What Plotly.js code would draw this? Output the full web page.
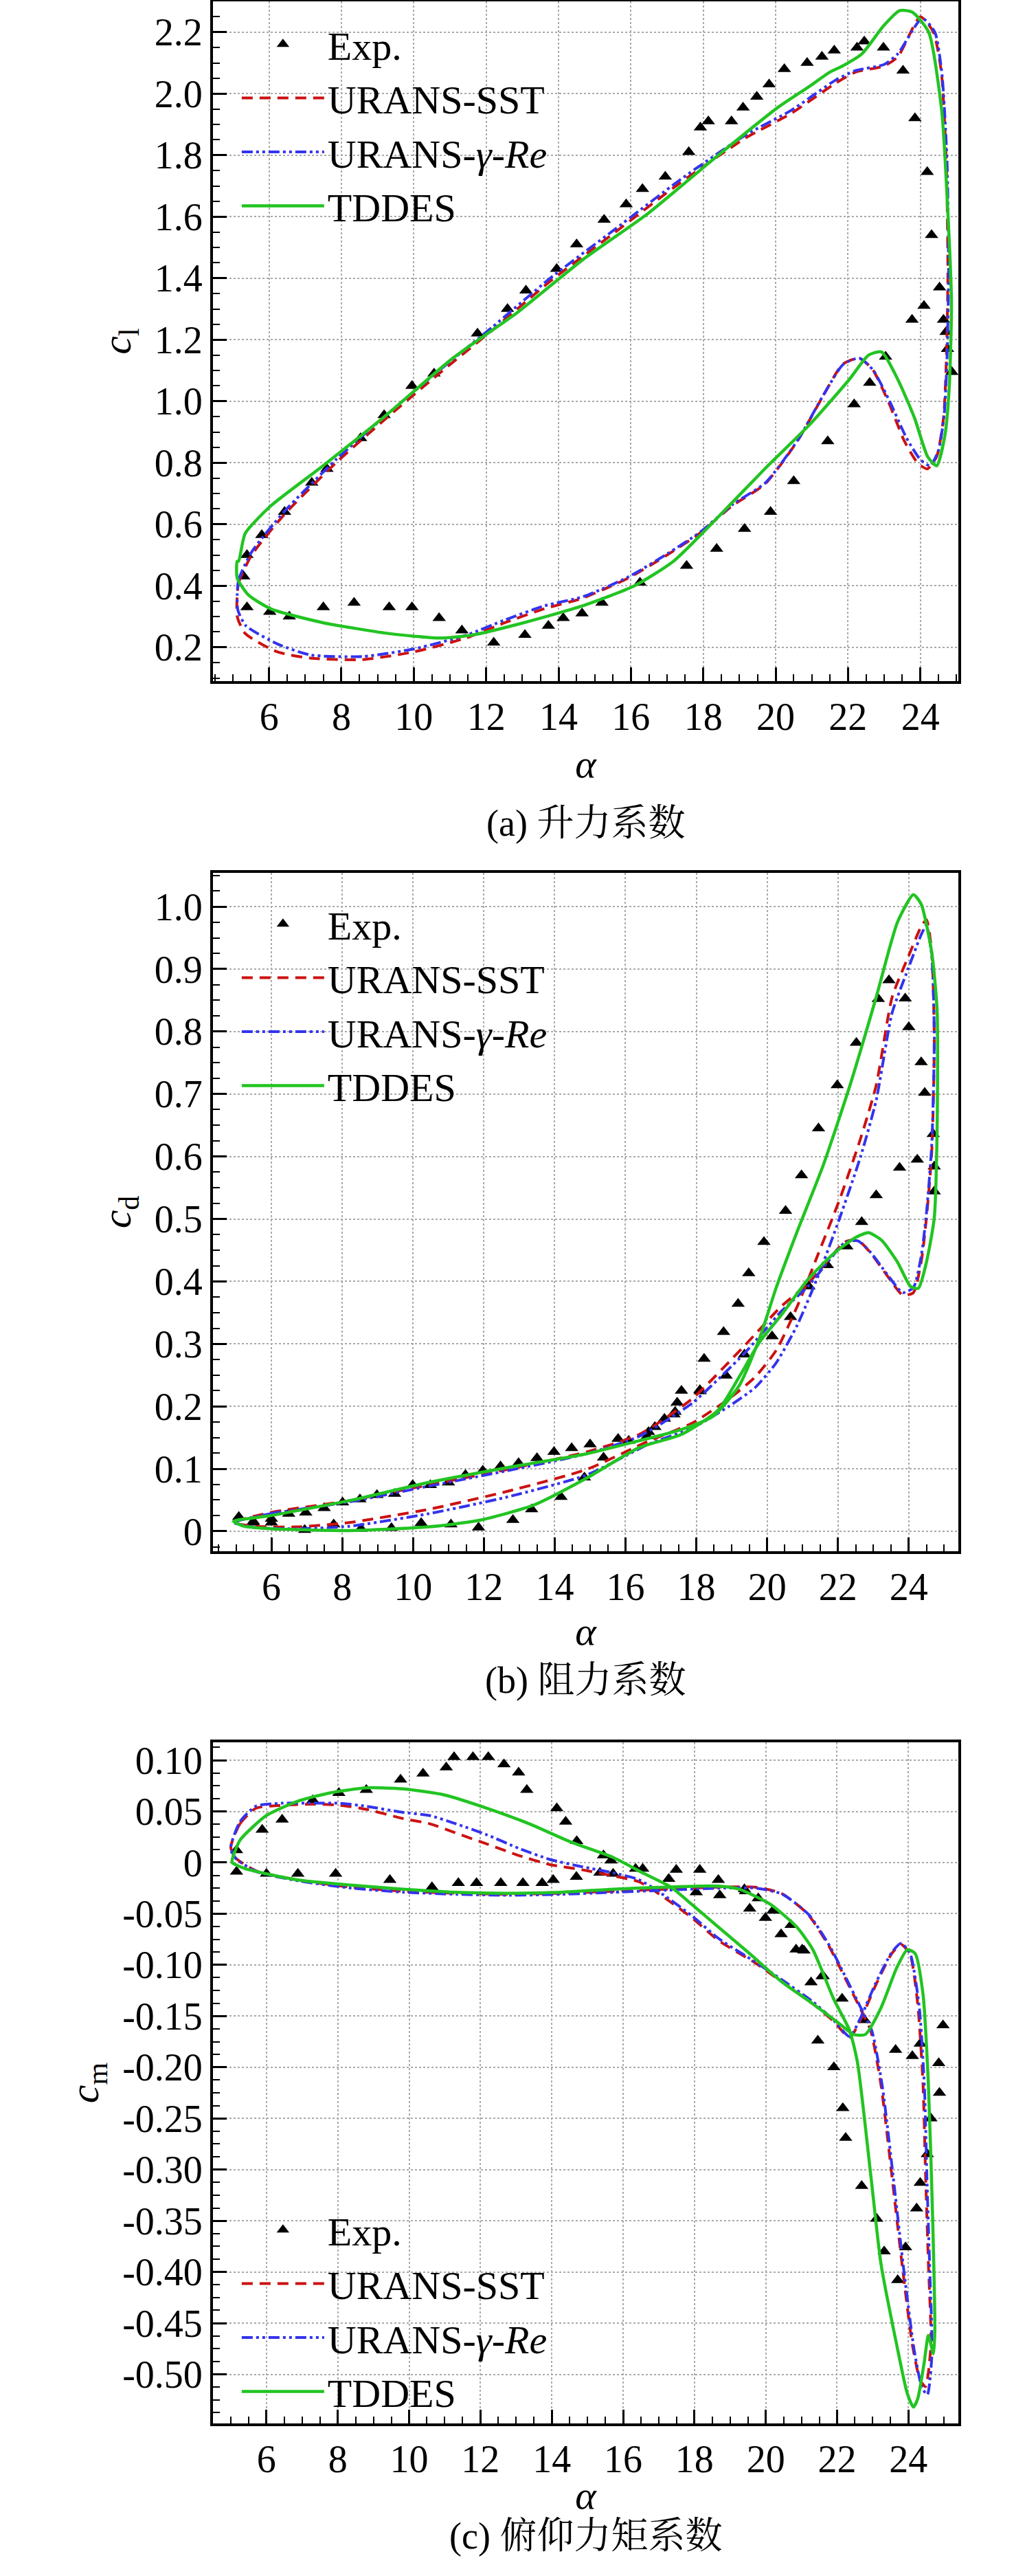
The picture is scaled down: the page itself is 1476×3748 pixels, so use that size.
<!DOCTYPE html>
<html>
<head>
<meta charset="utf-8">
<script src="https://cdn.plot.ly/plotly-3.0.1.min.js"></script>
<style>body{margin:0;background:#fff}#chart{width:1476px;height:3748px}</style>
</head>
<body>
<div id="chart"></div>
<script>
// ---- lift coefficient ----
const clExpA = [5.3,5.39,5.8,6.43,7.18,7.6,8.53,9.18,9.95,10.56,11.76,12.59,13.1,13.95,14.5,15.26,15.87,16.32,16.95,17.6,17.92,18.14,18.78,19.1,19.48,19.82,20.24,20.87,21.28,21.62,22.25,22.45,22.98,23.52,23.85,24.19,24.31,24.53,24.64,24.71,24.75,24.87,24.1,23.77,23.04,22.6,22.17,21.44,20.5,19.86,19.14,18.37,17.54,16.25,15.2,14.65,14.13,13.72,13.07,12.21,11.33,10.7,9.95,9.32,8.35,7.5,6.56,6.02,5.39];
const clExp = [0.43,0.5,0.565,0.64,0.735,0.78,0.88,0.955,1.05,1.09,1.22,1.3,1.36,1.43,1.51,1.59,1.64,1.69,1.73,1.81,1.89,1.91,1.91,1.955,1.99,2.03,2.08,2.1,2.12,2.14,2.15,2.17,2.15,2.075,1.92,1.745,1.54,1.37,1.265,1.225,1.17,1.095,1.31,1.265,1.145,1.06,0.99,0.87,0.74,0.64,0.585,0.52,0.465,0.41,0.345,0.31,0.295,0.27,0.24,0.215,0.255,0.295,0.33,0.33,0.345,0.33,0.3,0.315,0.33];
const clSstA = [5.12,5.16,5.52,6.41,7.85,9.29,10.7,12.16,13.77,15.57,17.36,19.16,20.42,21.67,22.21,23.0,23.38,24.0,24.36,24.58,24.72,24.76,24.72,24.64,24.45,24.19,23.92,23.56,23.11,22.67,22.3,21.85,21.3,20.6,19.7,18.8,17.9,17.0,15.93,14.67,13.6,12.52,11.44,10.0,8.57,7.13,6.23,5.34,5.12,5.12];
const clSst = [0.37,0.41,0.5,0.63,0.8,0.95,1.09,1.23,1.39,1.55,1.71,1.855,1.935,2.035,2.07,2.09,2.12,2.25,2.2,2.07,1.765,1.41,1.14,0.945,0.82,0.78,0.8,0.87,1.0,1.105,1.14,1.12,1.015,0.87,0.73,0.66,0.57,0.5,0.425,0.36,0.325,0.28,0.23,0.185,0.16,0.165,0.185,0.245,0.3,0.37];
const clGreA = [5.12,5.16,5.52,6.41,7.85,9.29,10.7,12.16,13.77,15.57,17.36,19.16,20.42,21.67,22.21,23.0,23.38,24.05,24.4,24.6,24.74,24.78,24.74,24.66,24.5,24.27,24.0,23.62,23.15,22.7,22.32,21.87,21.32,20.62,19.72,18.82,17.92,17.02,15.95,14.69,13.62,12.54,11.46,10.02,8.59,7.15,6.25,5.36,5.14,5.12];
const clGre = [0.37,0.42,0.51,0.64,0.81,0.96,1.1,1.24,1.4,1.56,1.72,1.865,1.945,2.045,2.075,2.095,2.13,2.245,2.2,2.06,1.77,1.42,1.15,0.96,0.84,0.79,0.81,0.88,1.0,1.1,1.14,1.12,1.02,0.875,0.735,0.665,0.575,0.505,0.43,0.365,0.335,0.29,0.24,0.195,0.17,0.175,0.21,0.27,0.32,0.37];
const clTdA = [5.12,5.16,5.34,6.05,7.49,9.29,11.08,12.88,14.67,16.47,18.26,20.06,20.95,21.5,21.85,22.39,22.98,23.43,23.78,24.23,24.59,24.77,24.86,24.8,24.68,24.45,24.2,23.84,23.38,22.93,22.57,22.03,20.95,19.7,18.26,17.18,16.1,14.67,12.88,11.62,10.72,9.29,7.49,6.05,5.43,5.12,5.12];
const clTd = [0.48,0.48,0.57,0.66,0.79,0.96,1.14,1.29,1.46,1.61,1.785,1.955,2.025,2.07,2.09,2.13,2.22,2.27,2.265,2.2,1.945,1.59,1.32,1.05,0.89,0.79,0.82,0.945,1.07,1.16,1.15,1.07,0.925,0.78,0.605,0.48,0.4,0.335,0.275,0.24,0.23,0.245,0.28,0.325,0.37,0.425,0.48];

// ---- drag coefficient ----
const cdExpA = [5.08,5.49,6.0,6.49,6.97,7.49,8.01,8.5,8.98,9.48,9.99,10.49,11.0,11.48,11.97,12.47,12.98,13.5,13.98,14.48,15.0,15.79,16.09,16.61,16.83,17.1,17.4,17.46,17.58,18.11,18.22,18.77,19.18,19.48,19.91,20.52,20.97,21.45,21.98,22.52,23.14,23.44,23.9,24.0,24.35,24.45,24.69,24.72,24.72,24.24,23.74,23.08,22.67,22.25,21.7,21.18,20.66,20.14,19.36,18.84,18.1,17.37,16.65,15.38,14.84,14.18,13.35,12.82,11.85,11.07,10.23,9.39,8.53,7.76,6.94,6.0,5.49];
const cdExp = [0.023,0.016,0.02,0.028,0.03,0.037,0.046,0.051,0.058,0.06,0.074,0.074,0.078,0.09,0.097,0.104,0.109,0.117,0.127,0.133,0.139,0.148,0.145,0.152,0.167,0.18,0.191,0.206,0.225,0.224,0.276,0.319,0.364,0.413,0.463,0.513,0.57,0.645,0.714,0.782,0.852,0.882,0.853,0.807,0.751,0.702,0.636,0.584,0.544,0.595,0.582,0.538,0.495,0.456,0.426,0.392,0.343,0.312,0.283,0.249,0.226,0.187,0.159,0.118,0.086,0.055,0.035,0.018,0.006,0.011,0.013,0.005,0.004,0.011,0.002,0.014,0.014];
const cdSstA = [4.93,5.97,8.2,10.43,12.67,14.9,16.39,17.88,19.36,20.4,21.15,21.74,22.19,22.56,22.93,23.38,23.83,24.13,24.35,24.5,24.65,24.72,24.65,24.5,24.35,23.98,23.53,23.08,22.64,22.04,21.45,20.85,20.26,19.66,18.92,17.88,16.68,14.9,12.67,10.43,8.2,6.71,5.52,4.93];
const cdSst = [0.014,0.03,0.049,0.074,0.099,0.127,0.155,0.212,0.297,0.36,0.396,0.435,0.463,0.466,0.445,0.41,0.378,0.382,0.431,0.502,0.608,0.785,0.926,0.979,0.968,0.919,0.855,0.714,0.629,0.53,0.445,0.36,0.29,0.247,0.212,0.173,0.145,0.099,0.064,0.035,0.014,0.007,0.008,0.014];
const cdGreA = [4.93,5.97,8.2,10.43,12.67,14.9,16.39,17.88,19.36,20.4,21.15,21.74,22.19,22.56,22.93,23.38,23.83,24.13,24.35,24.5,24.65,24.72,24.65,24.5,24.35,23.98,23.53,23.08,22.64,22.04,21.45,20.85,20.26,19.66,18.92,17.88,16.68,14.9,12.67,10.43,8.2,6.71,5.52,4.93];
const cdGre = [0.014,0.028,0.047,0.072,0.097,0.124,0.152,0.205,0.285,0.352,0.392,0.433,0.462,0.465,0.446,0.412,0.382,0.39,0.44,0.51,0.62,0.79,0.92,0.97,0.955,0.9,0.83,0.69,0.6,0.5,0.41,0.33,0.27,0.23,0.2,0.165,0.14,0.09,0.055,0.028,0.008,0.004,0.006,0.014];
const cdTdA = [4.93,5.97,8.2,10.43,12.67,14.9,16.39,17.58,18.47,19.21,19.8,20.25,20.85,21.59,22.34,23.08,23.68,24.13,24.35,24.65,24.8,24.8,24.72,24.5,24.27,24.05,23.68,23.23,22.86,22.49,21.89,21.15,20.4,19.8,19.21,18.62,17.58,16.39,14.9,13.41,11.92,10.43,8.2,5.97,5.23,4.93];
const cdTd = [0.016,0.025,0.049,0.078,0.102,0.124,0.145,0.163,0.184,0.233,0.311,0.389,0.48,0.587,0.714,0.855,0.975,1.019,1.004,0.926,0.834,0.643,0.502,0.431,0.389,0.392,0.431,0.466,0.478,0.47,0.445,0.403,0.346,0.304,0.247,0.194,0.155,0.134,0.085,0.042,0.018,0.007,0.001,0.004,0.008,0.016];

// ---- pitching moment coefficient ----
const cmExpA = [5.16,5.16,5.88,6.44,7.3,8.03,8.8,9.76,10.39,11.04,11.26,11.79,12.22,12.66,13.07,13.3,14.14,14.39,14.7,15.45,15.66,16.35,16.55,17.49,18.15,18.67,19.43,19.79,20.2,20.71,21.02,21.61,22.14,22.77,23.64,24.11,24.33,24.97,24.85,24.87,24.63,24.53,24.33,24.23,23.92,23.7,23.32,23.11,22.69,22.24,22.16,21.91,21.46,21.58,21.27,21.07,20.85,20.43,19.99,19.55,19.4,18.71,18.05,6.0,6.88,7.94,9.46,10.64,11.38,11.89,12.57,13.19,13.73,14.04,14.69,15.35,15.72,17.28];
const cmExp = [-0.009,0.012,0.032,0.042,0.061,0.068,0.071,0.081,0.087,0.093,0.103,0.103,0.103,0.096,0.088,0.071,0.053,0.04,0.021,0.007,0.002,-0.006,-0.006,-0.007,-0.007,-0.017,-0.028,-0.035,-0.047,-0.061,-0.085,-0.111,-0.133,-0.154,-0.183,-0.189,-0.177,-0.159,-0.196,-0.225,-0.25,-0.285,-0.313,-0.338,-0.376,-0.408,-0.38,-0.348,-0.316,-0.269,-0.24,-0.2,-0.174,-0.111,-0.117,-0.086,-0.085,-0.07,-0.054,-0.045,-0.026,-0.032,-0.029,-0.011,-0.011,-0.011,-0.017,-0.024,-0.02,-0.02,-0.02,-0.02,-0.02,-0.017,-0.014,-0.01,-0.011,-0.016];
const cmSstA = [5.0,5.26,5.7,6.44,7.33,8.06,8.8,9.83,10.57,11.3,12.19,13.07,13.95,14.84,15.72,16.46,17.19,17.93,18.67,19.7,20.43,21.32,21.9,22.35,22.64,23.08,23.53,23.79,24.04,24.26,24.41,24.48,24.56,24.63,24.48,24.33,24.11,23.82,23.53,23.23,22.94,22.64,22.2,21.76,21.17,20.43,19.7,18.67,17.19,15.72,14.25,12.77,11.3,9.83,8.36,6.88,5.7,5.12,5.0];
const cmSst = [0.015,0.038,0.053,0.056,0.057,0.056,0.052,0.043,0.038,0.029,0.018,0.007,-0.002,-0.007,-0.013,-0.019,-0.035,-0.054,-0.076,-0.098,-0.116,-0.138,-0.155,-0.171,-0.155,-0.12,-0.089,-0.08,-0.089,-0.138,-0.217,-0.304,-0.392,-0.471,-0.512,-0.506,-0.471,-0.392,-0.304,-0.217,-0.164,-0.142,-0.111,-0.081,-0.05,-0.03,-0.024,-0.024,-0.026,-0.028,-0.03,-0.031,-0.03,-0.028,-0.024,-0.017,-0.008,0.005,0.015];
const cmGreA = [5.0,5.26,5.7,6.44,7.33,8.06,8.8,9.83,10.57,11.3,12.19,13.07,13.95,14.84,15.72,16.46,17.19,17.93,18.67,19.7,20.43,21.32,21.9,22.35,22.64,23.08,23.53,23.79,24.04,24.3,24.45,24.52,24.6,24.66,24.53,24.38,24.16,23.86,23.57,23.27,22.98,22.68,22.24,21.8,21.21,20.47,19.74,18.7,17.22,15.75,14.28,12.8,11.33,9.86,8.39,6.91,5.73,5.14,5.0];
const cmGre = [0.015,0.04,0.055,0.058,0.058,0.058,0.055,0.049,0.046,0.038,0.027,0.014,0.003,-0.004,-0.01,-0.017,-0.033,-0.052,-0.074,-0.097,-0.114,-0.136,-0.154,-0.17,-0.153,-0.118,-0.088,-0.079,-0.088,-0.14,-0.22,-0.31,-0.4,-0.48,-0.52,-0.513,-0.476,-0.395,-0.306,-0.219,-0.165,-0.143,-0.112,-0.082,-0.051,-0.031,-0.025,-0.025,-0.027,-0.029,-0.031,-0.032,-0.031,-0.029,-0.025,-0.018,-0.009,0.004,0.015];
const cmTdA = [5.04,5.26,6.0,6.88,7.77,8.8,9.83,11.0,12.19,13.36,14.54,15.72,16.6,17.34,17.93,18.67,19.55,20.43,21.32,22.05,22.46,22.79,23.23,23.67,23.97,24.19,24.41,24.56,24.68,24.74,24.7,24.56,24.44,24.26,24.14,23.97,23.67,23.23,22.94,22.57,22.35,21.9,21.32,20.87,20.14,19.25,18.67,17.19,15.72,14.25,12.77,11.3,9.83,8.36,6.88,5.41,5.04,5.04];
const cmTd = [0.003,0.022,0.046,0.06,0.068,0.073,0.072,0.066,0.053,0.038,0.02,0.005,-0.011,-0.024,-0.041,-0.063,-0.089,-0.116,-0.138,-0.157,-0.168,-0.168,-0.142,-0.103,-0.085,-0.089,-0.129,-0.217,-0.348,-0.458,-0.48,-0.462,-0.489,-0.524,-0.532,-0.519,-0.471,-0.392,-0.304,-0.195,-0.164,-0.133,-0.085,-0.063,-0.041,-0.026,-0.023,-0.024,-0.026,-0.029,-0.03,-0.029,-0.026,-0.022,-0.017,-0.006,0.0,0.003];

// ---- tick labels ----
const xTicks = [6,8,10,12,14,16,18,20,22,24];
const clTicks = [0.2,0.4,0.6,0.8,1.0,1.2,1.4,1.6,1.8,2.0,2.2];
const clText = ['0.2','0.4','0.6','0.8','1.0','1.2','1.4','1.6','1.8','2.0','2.2'];
const cdTicks = [0,0.1,0.2,0.3,0.4,0.5,0.6,0.7,0.8,0.9,1.0];
const cdText = ['0','0.1','0.2','0.3','0.4','0.5','0.6','0.7','0.8','0.9','1.0'];
const cmTicks = [0.1,0.05,0,-0.05,-0.1,-0.15,-0.2,-0.25,-0.3,-0.35,-0.4,-0.45,-0.5];
const cmText = ['0.10','0.05','0','-0.05','-0.10','-0.15','-0.20','-0.25','-0.30','-0.35','-0.40','-0.45','-0.50'];
const captions = ['(a) 升力系数', '(b) 阻力系数', '(c) 俯仰力矩系数'];

const FONT = 'Liberation Serif';
const H = 3748;
const panels = [
  {exp:[clExpA,clExp], sst:[clSstA,clSst], gre:[clGreA,clGre], td:[clTdA,clTd], top:2, bot:991, cap:175, so:18, xr:[4.45,25.05], yr:[0.09,2.30], tv:clTicks, tt:clText, yt:'<i>c</i><sub>l</sub>', minor:0.05, leg:{x:0.235, y:1-20/H, yanchor:'top'}},
  {exp:[cdExpA,cdExp], sst:[cdSstA,cdSst], gre:[cdGreA,cdGre], td:[cdTdA,cdTd], top:1270, bot:2257, cap:188, so:14, xr:[4.35,25.4], yr:[-0.032,1.054], tv:cdTicks, tt:cdText, yt:'<i>c</i><sub>d</sub>', minor:0.025, leg:{x:0.235, y:1-1300/H, yanchor:'top'}},
  {exp:[cmExpA,cmExp], sst:[cmSstA,cmSst], gre:[cmGreA,cmGre], td:[cmTdA,cmTd], top:2535, bot:3526, cap:196, so:2, xr:[4.5,25.4], yr:[-0.548,0.1175], tv:cmTicks, tt:cmText, yt:'<i>c</i><sub>m</sub>', minor:0.0125, leg:{x:0.235, y:1-3200/H, yanchor:'top'}}
];

const traces = [];
const layout = {
  width: 1476, height: H,
  paper_bgcolor: '#fff', plot_bgcolor: '#fff',
  margin: {l:0, r:0, t:0, b:0},
  font: {family: FONT, size: 50, color: '#000'},
  annotations: []
};

panels.forEach((p, i) => {
  const n = i === 0 ? '' : String(i + 1);
  const leg = i === 0 ? 'legend' : 'legend' + n;
  const common = {xaxis: 'x' + n, yaxis: 'y' + n, legend: leg, showlegend: true};
  traces.push(Object.assign({x:p.exp[0], y:p.exp[1], name:'Exp.', mode:'markers', type:'scatter',
    marker:{symbol:'triangle-up', size:17, color:'#000'}}, common));
  traces.push(Object.assign({x:p.sst[0], y:p.sst[1], name:'URANS-SST', mode:'lines', type:'scatter',
    line:{color:'#cc1111', width:4, dash:'16px,10px', shape:'spline', smoothing:0.6}}, common));
  traces.push(Object.assign({x:p.gre[0], y:p.gre[1], name:'URANS-<i>γ</i>-<i>Re</i>', mode:'lines', type:'scatter',
    line:{color:'#3333ee', width:4, dash:'16px,5px,4px,5px,4px,5px', shape:'spline', smoothing:0.6}}, common));
  traces.push(Object.assign({x:p.td[0], y:p.td[1], name:'TDDES', mode:'lines', type:'scatter',
    line:{color:'#22c422', width:4.5, shape:'spline', smoothing:0.6}}, common));

  const dom = [1 - p.bot / H, 1 - p.top / H];
  layout['xaxis' + n] = {
    domain: [310/1476, 1395/1476], anchor: 'y' + n, range: p.xr,
    tickvals: xTicks, ticks: 'inside', ticklen: 20, tickwidth: 3, tickcolor: '#000',
    showline: true, mirror: true, linewidth: 4, linecolor: '#000',
    showgrid: true, gridcolor: '#aaa', griddash: 'dot', gridwidth: 2, zeroline: false,
    minor: {dtick: 0.5, ticks: 'inside', ticklen: 10, tickwidth: 2, tickcolor: '#000', showgrid: false},
    tickfont: {family: FONT, size: 56},
    title: {text: '<i>α</i>', font: {family: FONT, size: 58}, standoff: p.so}
  };
  layout['yaxis' + n] = {
    domain: dom, anchor: 'x' + n, range: p.yr,
    tickvals: p.tv, ticktext: p.tt, ticks: 'inside', ticklen: 20, tickwidth: 3, tickcolor: '#000',
    showline: true, mirror: true, linewidth: 4, linecolor: '#000',
    showgrid: true, gridcolor: '#aaa', griddash: 'dot', gridwidth: 2, zeroline: false,
    minor: {dtick: p.minor, ticks: 'inside', ticklen: 10, tickwidth: 2, tickcolor: '#000', showgrid: false},
    tickfont: {family: FONT, size: 56},
    title: {text: p.yt, font: {family: FONT, size: 60}, standoff: 16}
  };
  layout[leg] = Object.assign({xref:'paper', yref:'paper', xanchor:'left', bgcolor:'rgba(0,0,0,0)',
    font:{family: FONT, size: 58}, itemwidth: 120, tracegroupgap: 0, traceorder: 'normal'}, p.leg);
  layout.annotations.push({xref:'paper', yref:'paper', x: 852/1476, y: 1 - (p.bot + p.cap)/H,
    text: captions[i], showarrow: false, font: {family: FONT + ', Noto Serif CJK SC, Noto Sans CJK SC', size: 54}});
});

Plotly.newPlot('chart', traces, layout, {staticPlot: true});
</script>
</body>
</html>
